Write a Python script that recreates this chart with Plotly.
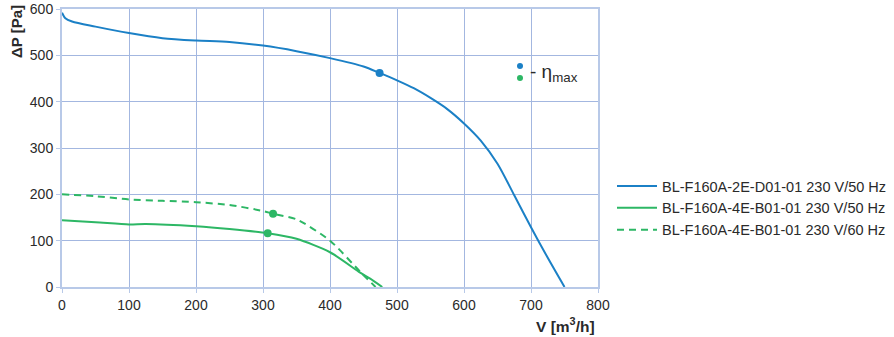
import plotly.graph_objects as go

# Data
blue_x = [0, 5, 15, 50, 100, 150, 200, 250, 300, 350, 400, 450, 474, 500, 525, 550, 575, 600, 625, 650, 675, 700, 725, 750]
blue_y = [592, 580, 573, 562, 548, 537, 532, 529, 521, 509, 494, 476, 462, 446, 429, 408, 384, 353, 316, 266, 198, 129, 63, 0]

green50_x = [0, 50, 100, 125, 200, 250, 307, 350, 400, 445, 460, 478]
green50_y = [144, 140, 135, 136, 131, 125, 116, 104, 75, 31, 18, 0]

green60_x = [0, 50, 100, 150, 200, 250, 300, 315, 350, 400, 445, 468]
green60_y = [200, 196, 189, 186, 183, 177, 164, 158, 146, 100, 33, 0]

eta_blue_x, eta_blue_y = [474], [462]
eta_g50_x, eta_g50_y = [307], [116]
eta_g60_x, eta_g60_y = [315], [158]

names = ["BL-F160A-2E-D01-01 230 V/50 Hz",
         "BL-F160A-4E-B01-01 230 V/50 Hz",
         "BL-F160A-4E-B01-01 230 V/60 Hz"]

BLUE = "#1b80c6"
GREEN = "#2db765"
GRID = "#a3b7e0"
AXLINE = "#b8c9e8"
TXT = "#2a2a2a"
FONT = "Liberation Sans, Arial, Helvetica, sans-serif"

fig = go.Figure()
fig.add_trace(go.Scatter(x=blue_x, y=blue_y, mode="lines", name=names[0],
                         line=dict(color=BLUE, width=2, shape="spline", smoothing=0.8)))
fig.add_trace(go.Scatter(x=green50_x, y=green50_y, mode="lines", name=names[1],
                         line=dict(color=GREEN, width=2, shape="spline", smoothing=0.7)))
fig.add_trace(go.Scatter(x=green60_x, y=green60_y, mode="lines", name=names[2],
                         line=dict(color=GREEN, width=2, dash="7px,5px", shape="spline", smoothing=0.7)))
for ex, ey, c in [(eta_blue_x, eta_blue_y, BLUE), (eta_g50_x, eta_g50_y, GREEN), (eta_g60_x, eta_g60_y, GREEN)]:
    fig.add_trace(go.Scatter(x=ex, y=ey, mode="markers", showlegend=False,
                             marker=dict(color=c, size=8)))

W, H = 894, 337
L, R, T, B = 62, 296, 9, 50
pw, ph = W - L - R, H - T - B

def px(xp):
    return (xp - L) / pw

def py(yp):
    return (H - B - yp) / ph

fig.update_layout(
    width=W, height=H,
    margin=dict(l=L, r=R, t=T, b=B, autoexpand=False),
    paper_bgcolor="white", plot_bgcolor="white",
    font=dict(family=FONT, size=14, color=TXT),
    showlegend=True,
    legend=dict(x=px(612), y=py(208), xanchor="left", yanchor="middle",
                font=dict(size=14.5, color=TXT), bgcolor="rgba(0,0,0,0)",
                tracegroupgap=0, itemwidth=40),
    xaxis=dict(range=[0, 800], dtick=100, showgrid=True, gridcolor=GRID, gridwidth=1,
               showline=True, mirror=True, linecolor=AXLINE, linewidth=2,
               ticks="outside", ticklen=4, tickcolor=AXLINE, zeroline=False,
               tickfont=dict(size=14, color=TXT)),
    yaxis=dict(range=[0, 600], dtick=100, showgrid=True, gridcolor=GRID, gridwidth=1,
               showline=True, mirror=True, linecolor=AXLINE, linewidth=2,
               ticks="outside", ticklen=4, tickcolor=AXLINE, zeroline=False,
               tickfont=dict(size=14, color=TXT)),
    annotations=[
        dict(text="<b>ΔP [Pa]</b>", textangle=-90, xref="paper", yref="paper",
             x=px(16), y=py(32), showarrow=False, xanchor="center", yanchor="middle",
             font=dict(size=15, color=TXT)),
        dict(text="<b>V [m<sup>3</sup>/h]</b>", xref="paper", yref="paper",
             x=px(597), y=py(325), showarrow=False, xanchor="right", yanchor="middle",
             font=dict(size=15.5, color=TXT)),
        dict(text="- η<sub>max</sub>", xref="paper", yref="paper",
             x=px(528), y=py(73), showarrow=False, xanchor="left", yanchor="middle",
             font=dict(size=19, color=TXT)),
    ],
    shapes=[
        dict(type="circle", xref="paper", yref="paper", fillcolor=BLUE, line=dict(width=0),
             x0=px(517), x1=px(523), y0=py(69), y1=py(63)),
        dict(type="circle", xref="paper", yref="paper", fillcolor=GREEN, line=dict(width=0),
             x0=px(517), x1=px(523), y0=py(81), y1=py(75)),
    ],
)

fig.write_html("out.html")
